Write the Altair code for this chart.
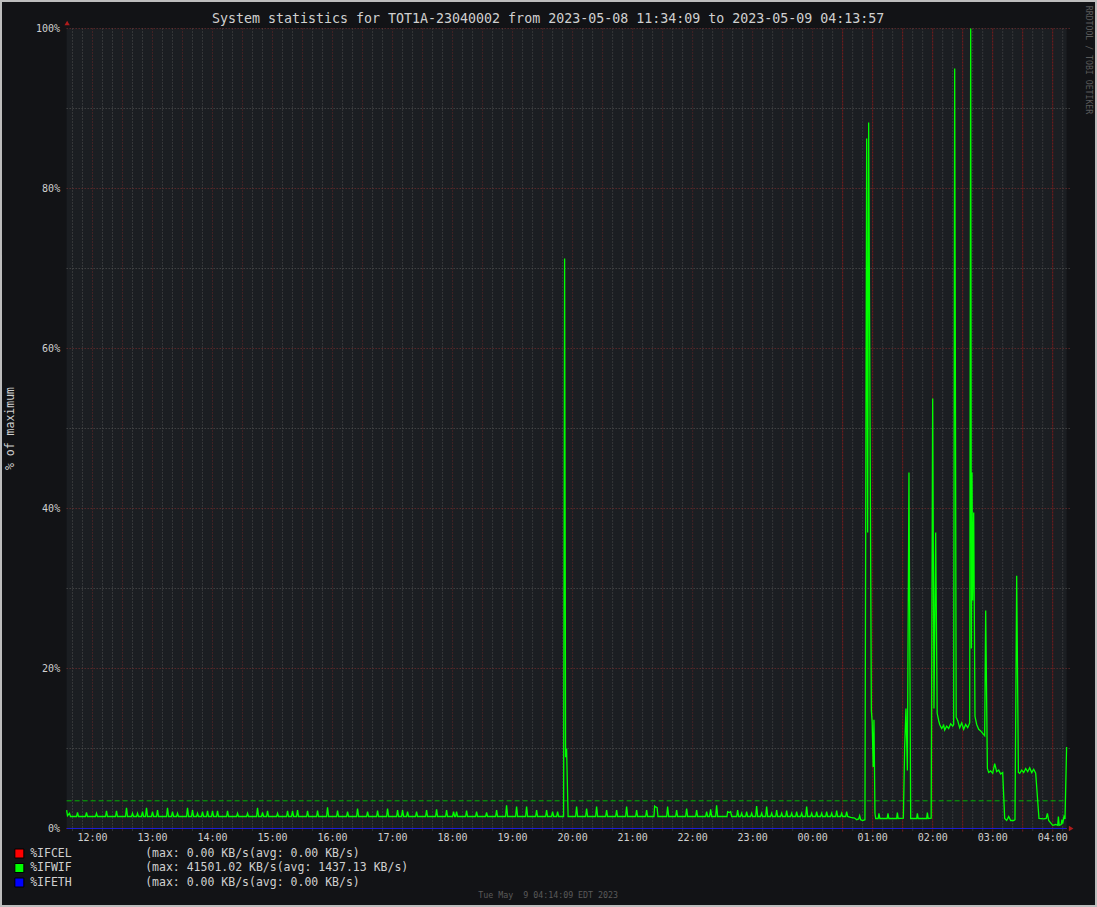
import math
import altair as alt
import pandas as pd

# ------------------------------------------------------------------ texts
TITLE = "System statistics for TOT1A-23040002 from 2023-05-08 11:34:09 to 2023-05-09 04:13:57"
Y_TITLE = "% of maximum"
SIDE_TEXT = "RRDTOOL / TOBI OETIKER"
FOOTER = "Tue May \u00a09 04:14:09 EDT 2023"

START = "11:34:09"   # 2023-05-08
END = "04:13:57"     # 2023-05-09

y_major = [0, 20, 40, 60, 80, 100]
y_minor = [10, 30, 50, 70, 90]

legend_names = ["%IFCEL", "%IFWIF", "%IFETH"]
legend_colors = ["#ff0000", "#00ff00", "#0000ff"]
legend_max = ["0.00", "41501.02", "0.00"]
legend_avg = ["0.00", "1437.13", "0.00"]

wif_max_kbs = 41501.02
wif_avg_kbs = 1437.13

# ------------------------------------------------------------------ %IFWIF series
base_pct = 1.5

spike_times = [
    "11:45", "11:54", "12:04", "12:14", "12:24", "12:34", "12:40", "12:45", "12:50", "12:54",
    "13:00", "13:05", "13:15", "13:20", "13:25", "13:35", "13:40", "13:45", "13:50", "13:55",
    "14:00", "14:05", "14:15", "14:25", "14:35", "14:45", "14:50", "14:55", "15:05", "15:15",
    "15:20", "15:25", "15:35", "15:45", "15:55", "16:05", "16:15", "16:25", "16:35", "16:45",
    "16:55", "17:05", "17:10", "17:15", "17:24", "17:34", "17:44", "17:54", "18:01", "18:04",
    "18:14", "18:24", "18:34", "18:44", "18:54", "19:04", "19:14", "19:24", "19:34", "19:40",
    "19:45", "20:04", "20:14", "20:24", "20:34", "20:44", "20:54", "21:04", "21:14", "21:35",
    "21:44", "21:54", "22:04", "22:14", "22:18", "22:24", "22:45", "22:49", "22:54", "22:59",
    "23:04", "23:09", "23:14", "23:19", "23:24", "23:29", "23:34", "23:39", "23:44", "23:49",
    "23:54", "23:59", "00:04", "00:09", "00:14", "00:19", "00:24", "00:29", "00:34",
]
spike_pct = [
    2.0, 2.0, 1.9, 2.2, 2.2, 2.6, 1.9, 1.9, 2.1, 2.6,
    2.1, 2.3, 2.6, 2.1, 1.9, 2.6, 2.3, 1.9, 2.1, 2.2,
    2.2, 2.2, 2.2, 1.9, 1.9, 2.6, 2.0, 2.2, 1.9, 2.2,
    2.2, 2.3, 2.2, 2.25, 2.65, 2.25, 2.1, 2.5, 2.1, 2.25,
    2.5, 2.3, 2.3, 2.1, 2.1, 2.3, 2.4, 2.3, 2.1, 2.1,
    2.25, 2.1, 2.0, 2.3, 2.9, 2.75, 2.75, 2.3, 2.3, 2.1,
    2.1, 2.75, 2.5, 2.75, 2.3, 2.3, 2.75, 2.3, 2.3, 2.75,
    2.3, 2.5, 2.3, 2.1, 2.4, 2.9, 2.3, 1.9, 2.1, 1.9,
    2.8, 1.9, 2.75, 1.9, 2.3, 1.9, 2.25, 1.9, 2.1, 1.9,
    2.75, 1.9, 2.1, 1.9, 2.1, 1.9, 2.25, 1.9, 2.1,
]

event_times = [
    "11:34:09", "11:35", "11:37", "11:38",
    "19:51", "19:52", "19:53", "19:54", "19:55:30",
    "21:21:20", "21:22", "21:23", "21:24:30", "21:25:20",
    "22:34:20", "22:35", "22:37", "22:38", "22:39",
    "00:38", "00:42", "00:44", "00:46", "00:47", "00:48", "00:50", "00:52:18",
    "00:54", "00:55", "00:56", "00:58:42", "00:59:30", "01:00:30", "01:01:18", "01:02:18", "01:03",
    "01:05:30", "01:06:18", "01:07:12", "01:14:30", "01:15:18", "01:16:12", "01:24", "01:24:42",
    "01:25:30", "01:30:42", "01:32", "01:33:18", "01:34:42", "01:36:18", "01:38",
    "01:44", "01:44:42", "01:45:30", "01:54", "01:54:42", "01:55:30", "01:58:30",
    "02:00", "02:01:18", "02:03", "02:04:30", "02:06", "02:07", "02:09", "02:11", "02:12",
    "02:14", "02:16", "02:18", "02:20", "02:21", "02:22", "02:23:30", "02:25", "02:27",
    "02:29", "02:31", "02:33", "02:35", "02:37", "02:38", "02:38:42", "02:39:18", "02:40",
    "02:41", "02:42:18", "02:44", "02:46", "02:48", "02:50", "02:52", "02:53", "02:54:42",
    "02:56", "02:58", "03:00", "03:02", "03:04", "03:06", "03:08", "03:10", "03:12",
    "03:14", "03:16", "03:18", "03:21", "03:22:18", "03:24", "03:25:42", "03:27", "03:29",
    "03:31", "03:33", "03:35", "03:37", "03:39", "03:41", "03:43", "03:46:18", "03:51",
    "03:53:30", "03:54:42", "03:56", "04:00", "04:03", "04:05", "04:05:42", "04:06:30",
    "04:08:30", "04:09:12", "04:10", "04:11:18", "04:12:18", "04:13:54",
]
event_pct = [
    2.3, 1.6, 1.9, 1.5,
    1.5, 71.25, 8.9, 10.0, 1.5,
    1.5, 2.8, 2.7, 2.6, 1.5,
    1.5, 2.1, 2.0, 2.1, 1.5,
    1.4, 1.3, 1.1, 1.2, 1.6, 1.1, 1.0, 1.1,
    86.25, 37.0, 88.25, 14.75, 13.3, 7.7, 13.6, 1.9, 1.25,
    1.25, 1.9, 1.25, 1.25, 1.9, 1.25, 1.25, 2.0,
    1.25, 1.3, 10.2, 15.0, 7.25, 44.5, 1.25,
    1.25, 1.9, 1.25, 1.25, 2.0, 1.25, 1.3,
    53.75, 15.0, 37.0, 14.4, 13.5, 13.0, 12.5, 12.9, 12.3,
    12.8, 12.5, 13.1, 12.8, 13.0, 95.0, 13.9, 13.5, 12.6,
    13.2, 12.4, 13.0, 12.6, 13.2, 100.0, 22.5, 44.5, 28.5,
    39.5, 14.0, 13.0, 12.4, 12.2, 11.9, 11.6, 27.25, 7.5,
    7.0, 7.2, 6.9, 8.1, 7.1, 7.3, 6.8, 7.0, 1.25,
    1.0, 1.5, 1.0, 1.0, 1.1, 31.6, 7.0, 6.9, 7.3,
    7.0, 7.5, 7.1, 7.6, 7.0, 7.4, 6.9, 1.25, 1.2,
    1.25, 1.9, 1.0, 0.4, 0.5, 0.4, 1.5, 0.4,
    0.5, 1.1, 0.6, 1.5, 1.2, 10.2,
]


def tmin(s):
    """clock string -> minutes since 2023-05-08 00:00"""
    p = [float(x) for x in s.split(":")]
    v = p[0] * 60 + p[1] + (p[2] / 60 if len(p) > 2 else 0)
    return v + 1440 if p[0] < 11 else v


t0, t1 = tmin(START), tmin(END)

rows = []
for s, h in zip(spike_times, spike_pct):
    t = tmin(s)
    rows += [(t - 1, base_pct), (t, h), (t + 1, base_pct)]
for s, v in zip(event_times, event_pct):
    rows.append((tmin(s), v))
wif = pd.DataFrame(rows, columns=["t", "pct"]).sort_values("t").reset_index(drop=True)

zero_df = pd.DataFrame({"t": [t0, t1], "pct": [0, 0]})
avg_df = pd.DataFrame({"pct": [wif_avg_kbs / wif_max_kbs * 100]})

hour_vals = list(range(int(math.ceil(t0 / 60)) * 60, int(t1) + 1, 60))
hour_df = pd.DataFrame({"t": hour_vals, "lab": [f"{(h // 60) % 24:02d}:00" for h in hour_vals]})
ylab_df = pd.DataFrame({"p": y_major, "lab": [f"{v}%" for v in y_major]})

minor_v = pd.DataFrame({"t": [m for m in range(int(math.ceil(t0 / 10)) * 10, int(t1) + 1, 10) if m % 30]})
major_all = [m for m in range(int(math.ceil(t0 / 30)) * 30, int(t1) + 1, 30)]
major_v = pd.DataFrame({"t": [m for m in major_all if m < tmin("00:30")]})
major_v2 = pd.DataFrame({"t": [m for m in major_all if m >= tmin("00:30")]})
hmin_df = pd.DataFrame({"p": y_minor})
hmaj_df = pd.DataFrame({"p": y_major[1:]})

FONT = "DejaVu Sans Mono"
TXT = "#d0d0d0"
xs = alt.Scale(domain=[t0, t1], nice=False, zero=False)
ys = alt.Scale(domain=[0, 100], nice=False, zero=False)


def X(f):
    return alt.X(f, scale=xs, axis=None)


def Y(f):
    return alt.Y(f, scale=ys, axis=None)


one = pd.DataFrame({"a": [0]})

frame = alt.Chart(one).mark_rect(fill=None, stroke="#bdbdbd", strokeWidth=2).encode(
    x=alt.value(-65.65), x2=alt.value(1029.35), y=alt.value(-27.5), y2=alt.value(877.5))

g_vmin = alt.Chart(minor_v).mark_rule(color="#505050", strokeDash=[1, 2], strokeWidth=1).encode(
    x=X("t:Q"), y=alt.value(0), y2=alt.value(803))
g_vmaj = alt.Chart(major_v).mark_rule(color="#6a2828", strokeDash=[1, 2], strokeWidth=1).encode(
    x=X("t:Q"), y=alt.value(0), y2=alt.value(803))
g_vmaj2 = alt.Chart(major_v2).mark_rule(color="#7e1c1c", strokeDash=[2, 1], strokeWidth=1).encode(
    x=X("t:Q"), y=alt.value(0), y2=alt.value(803))
g_hmin = alt.Chart(hmin_df).mark_rule(color="#555555", strokeDash=[1, 2], strokeWidth=1).encode(
    y=Y("p:Q"), x=alt.value(0), x2=alt.value(1003))
g_hmaj = alt.Chart(hmaj_df).mark_rule(color="#763030", strokeDash=[1, 2], strokeWidth=1).encode(
    y=Y("p:Q"), x=alt.value(0), x2=alt.value(1003))

avg_rule = alt.Chart(avg_df).mark_rule(color="#00b400", strokeDash=[5, 3], strokeWidth=1).encode(
    y=Y("pct:Q"), x=alt.value(0), x2=alt.value(1000))

cel_line = alt.Chart(zero_df).mark_line(color="#ff0000", strokeWidth=1).encode(x=X("t:Q"), y=Y("pct:Q"))
eth_line = alt.Chart(zero_df).mark_line(color="#1c1cd0", strokeWidth=1).encode(x=X("t:Q"), y=Y("pct:Q"))

wif_line = alt.Chart(wif).mark_line(color="#00ff00", strokeWidth=1.3, interpolate="linear").encode(
    x=X("t:Q"), y=Y("pct:Q"))

x_labels = alt.Chart(hour_df).mark_text(font=FONT, fontSize=10, color=TXT, align="center",
                                        baseline="middle").encode(
    x=X("t:Q"), y=alt.value(809.5), text="lab:N")
y_labels = alt.Chart(ylab_df).mark_text(font=FONT, fontSize=10, color=TXT, align="right",
                                        baseline="middle").encode(
    y=Y("p:Q"), x=alt.value(-6.5), text="lab:N")

arrow_up = alt.Chart(one).mark_point(shape="triangle-up", filled=True, size=28, color="#b01c1c", opacity=1).encode(
    x=alt.value(0.5), y=alt.value(-5.5))
arrow_right = alt.Chart(one).mark_point(shape="triangle-right", filled=True, size=28, color="#b01c1c", opacity=1).encode(
    x=alt.value(1004.5), y=alt.value(800))

title_t = alt.Chart(pd.DataFrame({"s": [TITLE]})).mark_text(
    font=FONT, fontSize=13.3, color=TXT, align="center", baseline="middle").encode(
    text="s:N", x=alt.value(481.5), y=alt.value(-9.5))
ytitle_t = alt.Chart(pd.DataFrame({"s": [Y_TITLE]})).mark_text(
    font=FONT, fontSize=11.5, color=TXT, align="center", baseline="middle", angle=270).encode(
    text="s:N", x=alt.value(-55.5), y=alt.value(400))
side_t = alt.Chart(pd.DataFrame({"s": [SIDE_TEXT]})).mark_text(
    font=FONT, fontSize=8.2, color="#5a5a5a", align="center", baseline="middle", angle=90).encode(
    text="s:N", x=alt.value(1021), y=alt.value(31.5))
foot_t = alt.Chart(pd.DataFrame({"s": [FOOTER]})).mark_text(
    font=FONT, fontSize=8.3, color="#5a5a5a", align="center", baseline="middle").encode(
    text="s:N", x=alt.value(481.5), y=alt.value(867.5))

leg_df = pd.DataFrame({
    "name": legend_names,
    "color": legend_colors,
    "stat": [f"(max: {m} KB/s(avg: {a} KB/s)" for m, a in zip(legend_max, legend_avg)],
    "row": list(range(len(legend_names))),
})
leg_base = alt.Chart(leg_df).transform_calculate(py="825 + datum.row * 14.5")
leg_sq = leg_base.mark_square(size=81, filled=True, stroke="#000000", strokeWidth=1, opacity=1).encode(
    x=alt.value(-47.3), y=alt.Y("py:Q", scale=None, axis=None), fill=alt.Fill("color:N", scale=None, legend=None))
leg_name = leg_base.mark_text(font=FONT, fontSize=11.5, color=TXT, align="left", baseline="middle").encode(
    x=alt.value(-36.5), y=alt.Y("py:Q", scale=None, axis=None), text="name:N")
leg_stat = leg_base.mark_text(font=FONT, fontSize=11.5, color=TXT, align="left", baseline="middle").encode(
    x=alt.value(78.5), y=alt.Y("py:Q", scale=None, axis=None), text="stat:N")

chart = alt.layer(
    g_vmin, g_vmaj, g_vmaj2, g_hmin, g_hmaj, avg_rule, cel_line, eth_line, wif_line,
    x_labels, y_labels, arrow_up, arrow_right, title_t, ytitle_t, side_t, foot_t,
    leg_sq, leg_name, leg_stat, frame,
).properties(
    width=1000, height=800,
    padding={"left": 66.65, "top": 28.5, "right": 30.35, "bottom": 78.5},
    autosize=alt.AutoSizeParams(type="none"),
    background="#121316",
).configure_view(fill="#1b1e22", stroke=None)

chart.save("out.html", embed_options={"renderer": "svg", "actions": False})
